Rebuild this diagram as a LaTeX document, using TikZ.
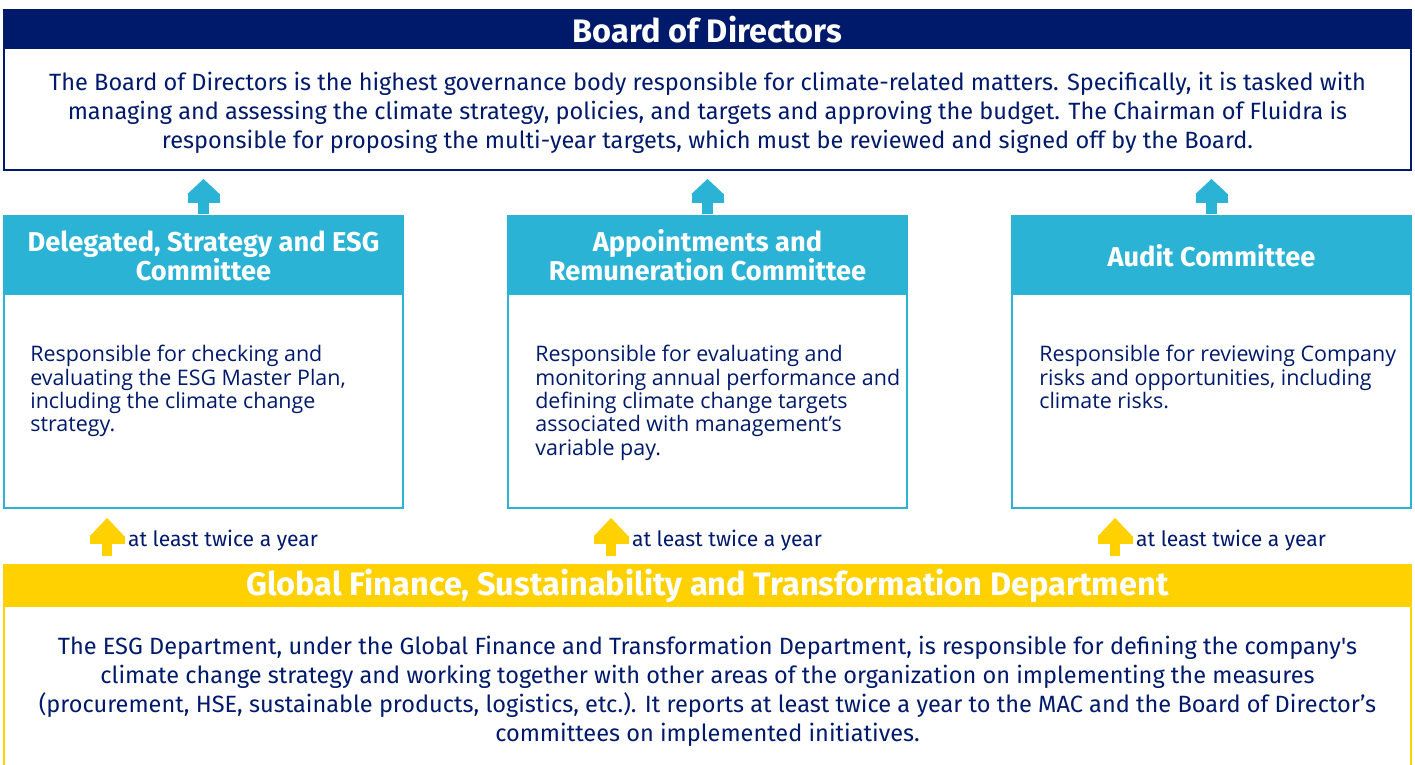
\documentclass[tikz,border=0pt]{standalone}
\usepackage{fontspec}
\setmainfont{Fira Sans}
\newfontfamily\notefont{Open Sans}
\usetikzlibrary{positioning, arrows.meta, calc}
\definecolor{fnavy}{RGB}{0,26,107}
\definecolor{fblue}{RGB}{43,179,213}
\definecolor{fyellow}{RGB}{255,209,0}

\begin{document}
\begin{tikzpicture}[
  x=0.02cm, y=-0.02cm,
  frame/.style  = {draw=#1, line width=1.1pt, inner sep=0pt},
  hdr/.style    = {fill=#1, text=white, inner sep=0pt, align=center,
                   font=\bfseries\fontsize{18.5}{21}\selectfont},
  chdr/.style   = {fill=fblue, text=white, inner sep=0pt, align=center,
                   minimum width=7.98cm, minimum height=1.6cm,
                   font=\bfseries\fontsize{15.5}{16.5}\selectfont},
  big/.style    = {text=fnavy, align=center, inner sep=0pt,
                   font=\fontsize{13.4}{16.6}\selectfont},
  note/.style   = {text=fnavy, align=left, inner sep=0pt, anchor=north west,
                   font=\notefont\fontsize{12.2}{13.3}\selectfont},
  lbl/.style    = {text=fnavy, inner sep=0pt, font=\fontsize{12}{14}\selectfont},
  bup/.style    = {fblue, line width=0.21cm,
                   -{Rectangle[length=0.18cm,width=0.64cm,line width=0pt]
                     Triangle[length=0.3cm,width=0.64cm,line width=0pt]}},
  yup/.style    = {fyellow, line width=0.2cm,
                   -{Rectangle[length=0.16cm,width=0.7cm,line width=0pt]
                     Triangle[length=0.37cm,width=0.7cm,line width=0pt]}},
]
\clip (0,0) rectangle (1415,764);
\fill[white] (0,0) rectangle (1415,764);

% --- board ---------------------------------------------------------------
\node[frame=fnavy, minimum width=28.14cm, minimum height=3.2cm] (board) at (707.5,90) {};
\node[hdr=fnavy, minimum width=28.14cm, minimum height=0.8cm, anchor=north]
     (boardhd) at (board.north) {Board of Directors};
\node[big] (boardtx) at (707.5,113)
     {The Board of Directors is the highest governance body responsible for climate-related matters. Specifically, it is tasked with\\
      managing and assessing the climate strategy, policies, and targets and approving the budget. The Chairman of Fluidra is\\
      responsible for proposing the multi-year targets, which must be reviewed and signed off by the Board.};

% --- committees ----------------------------------------------------------
\node[frame=fblue, minimum width=7.98cm, minimum height=5.84cm] (dsc)   at (203.5,362)  {};
\node[frame=fblue, minimum width=7.98cm, minimum height=5.84cm] (arc)   at (707.5,362)  {};
\node[frame=fblue, minimum width=7.98cm, minimum height=5.84cm] (audit) at (1211.5,362) {};

\node[chdr, anchor=north] (dschd)   at (dsc.north)   {Delegated, Strategy and ESG\\Committee};
\node[chdr, anchor=north] (archd)   at (arc.north)   {Appointments and\\Remuneration Committee};
\node[chdr, anchor=north] (audithd) at (audit.north) {Audit Committee};

\node[note] (dsctx)   at (30,345)
     {Responsible for checking and\\evaluating the ESG Master Plan,\\including the climate change\\strategy.};
\node[note] (arctx)   at (535,345)
     {Responsible for evaluating and\\monitoring annual performance and\\defining climate change targets\\associated with management’s\\variable pay.};
\node[note] (audittx) at (1039,345)
     {Responsible for reviewing Company\\risks and opportunities, including\\climate risks.};

% --- department ----------------------------------------------------------
\node[frame=fyellow, minimum width=28.14cm, minimum height=4.5cm] (gfst) at (707.5,677.5) {};
\node[hdr=fyellow, minimum width=28.14cm, minimum height=0.86cm, anchor=north]
     (gfsthd) at (gfst.north) {Global Finance, Sustainability and Transformation Department};
\node[big] (gfsttx) at (707.5,691.5)
     {The ESG Department, under the Global Finance and Transformation Department, is responsible for defining the company\textquotesingle s\\
      climate change strategy and working together with other areas of the organization on implementing the measures\\
      (procurement, HSE, sustainable products, logistics, etc.). It reports at least twice a year to the MAC and the Board of Director’s\\
      committees on implemented initiatives.};

% --- reporting lines -----------------------------------------------------
\foreach \c in {dsc, arc, audit} {
  \draw[bup, shorten <=0.02cm, shorten >=0.16cm] (\c.north) -- (\c.north |- board.south);
  \coordinate (\c y) at ($(\c.south west)+(104,0)$);
  \draw[yup, shorten <=0.16cm, shorten >=0.18cm] (\c y |- gfsthd.north) --
       node[lbl, pos=0.42, anchor=west, xshift=0.32cm] {at least twice a year} (\c y);
}

\end{tikzpicture}
\end{document}
